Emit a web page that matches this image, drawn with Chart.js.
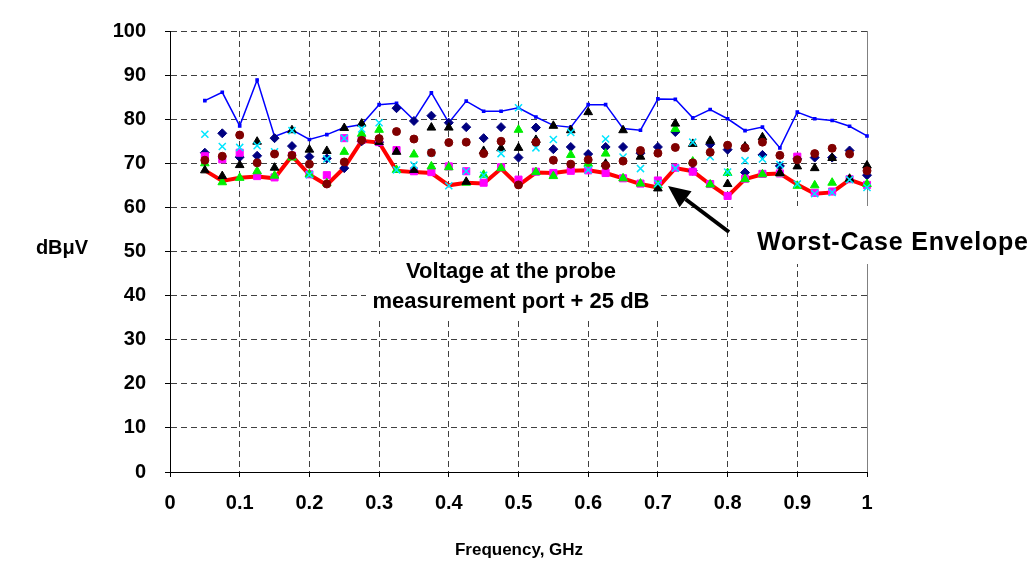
<!DOCTYPE html>
<html>
<head>
<meta charset="utf-8">
<script src="https://cdn.jsdelivr.net/npm/chart.js@4.4.0/dist/chart.umd.min.js"></script>
<style>
  html, body { margin: 0; padding: 0; background: #fff; }
</style>
</head>
<body>
<canvas id="chart" width="1034" height="564"></canvas>
<script>
// Frequency points, GHz
const freqGHz = [0.05, 0.075, 0.1, 0.125, 0.15, 0.175, 0.2, 0.225, 0.25, 0.275,
                 0.3, 0.325, 0.35, 0.375, 0.4, 0.425, 0.45, 0.475, 0.5, 0.525,
                 0.55, 0.575, 0.6, 0.625, 0.65, 0.675, 0.7, 0.725, 0.75, 0.775,
                 0.8, 0.825, 0.85, 0.875, 0.9, 0.925, 0.95, 0.975, 1.0];

const xTickLabels = ['0', '0.1', '0.2', '0.3', '0.4', '0.5', '0.6', '0.7', '0.8', '0.9', '1'];
const yTickLabels = ['0', '10', '20', '30', '40', '50', '60', '70', '80', '90', '100'];

// upper envelope (blue line)
const upperLine = [84.2, 86.1, 78.5, 88.9, 76.1, 77.6, 75.4, 76.5, 78.1, 78.8,
                   83.3, 83.6, 79.8, 86.0, 79.2, 84.1, 81.8, 81.8, 82.6, 80.5,
                   78.6, 78.2, 83.3, 83.3, 77.9, 77.5, 84.6, 84.5, 80.3, 82.2,
                   80.1, 77.4, 78.2, 73.5, 81.6, 80.1, 79.7, 78.4, 76.2];

// worst-case envelope (red line)
const worstCase = [68.4, 66.0, 66.7, 67.0, 66.6, 71.7, 67.4, 65.1, 69.0, 75.1,
                   74.7, 68.3, 68.0, 67.8, 65.0, 65.6, 65.4, 68.8, 65.0, 67.9,
                   67.8, 68.3, 68.4, 67.8, 66.6, 65.3, 64.5, 68.9, 68.2, 65.2,
                   62.5, 66.4, 67.5, 67.7, 65.2, 63.1, 63.4, 66.3, 64.9];

// individual measurements
const navyDiamond = [72.4, 76.8, 71.4, 71.7, 75.7, 73.9, 71.5, 71.1, 68.9, 75.0,
                     74.8, 82.5, 79.6, 80.8, 79.2, 78.2, 75.7, 78.2, 71.3, 78.1,
                     73.2, 73.7, 72.1, 73.7, 73.7, 72.3, 73.7, 77.1, 68.3, 74.3,
                     73.1, 67.9, 71.9, 69.4, 71.0, 71.3, 71.3, 72.9, 67.3];
const magentaSquare = [71.6, 70.9, 72.4, 67.1, 66.8, 71.7, 67.5, 67.3, 75.7, 75.3,
                       74.8, 73.0, 68.2, 68.0, 69.3, 68.2, 65.6, 69.1, 66.3, 68.1,
                       67.8, 68.3, 68.4, 67.8, 66.6, 65.4, 66.1, 69.0, 68.1, 65.3,
                       62.6, 66.5, 67.6, 67.7, 71.5, 63.3, 63.6, 66.4, 65.1];
const greenTriangle = [70.0, 65.7, 66.7, 68.2, 67.2, 71.3, 67.5, 65.5, 72.6, 76.7,
                       77.6, 68.5, 72.0, 69.3, 69.1, 65.6, 67.4, 68.9, 77.6, 68.0,
                       67.1, 71.9, 69.9, 72.2, 66.6, 65.4, 65.0, 77.8, 70.4, 65.2,
                       67.8, 66.4, 67.5, 67.7, 64.9, 65.0, 65.6, 66.4, 65.3];
const blackTriangle = [68.4, 67.1, 69.6, 74.9, 69.0, 77.5, 73.1, 72.8, 78.0, 79.0,
                       74.8, 72.6, 68.5, 78.1, 78.1, 65.8, 72.8, 73.4, 73.5, 75.3,
                       78.5, 77.5, 81.6, 69.9, 77.5, 71.5, 64.3, 79.0, 74.4, 75.1,
                       65.3, 73.8, 75.9, 67.8, 69.3, 68.9, 71.2, 66.5, 69.5];
const cyanCross = [76.6, 73.8, 73.6, 74.0, 72.6, 77.4, 67.4, 71.0, 75.7, 77.8,
                   79.2, 68.5, 69.6, 72.4, 64.9, 68.2, 67.3, 72.2, 82.6, 73.5,
                   75.4, 77.0, 68.5, 75.5, 71.4, 68.8, 65.4, 68.9, 74.8, 71.5,
                   68.0, 70.6, 71.0, 69.7, 65.3, 63.1, 63.4, 66.3, 64.5];
const brownCircle = [70.7, 71.6, 76.4, 70.1, 72.1, 71.8, 69.8, 65.3, 70.3, 75.2,
                     75.6, 77.2, 75.5, 72.4, 74.7, 74.8, 72.2, 75.0, 65.1, 74.8,
                     70.7, 69.8, 70.8, 69.5, 70.5, 72.9, 72.3, 73.6, 70.1, 72.5,
                     74.1, 73.5, 74.8, 71.8, 70.8, 72.2, 73.4, 72.1, 68.3];

const FONT = '"Liberation Sans", Arial, sans-serif';
const toPoints = ys => ys.map((y, i) => ({ x: freqGHz[i], y }));

function markers(label, ys, style, color, radius, order, extra) {
  return Object.assign({
    label,
    data: toPoints(ys),
    showLine: false,
    pointStyle: style,
    pointRadius: radius,
    backgroundColor: color,
    borderColor: color,
    borderWidth: 1,
    clip: false,
    order,
  }, extra || {});
}

// labels, arrow and the solid right edge of the plot
const notes = {
  id: 'notes',
  beforeDatasetsDraw(chart) {
    const { ctx, chartArea: a } = chart;
    ctx.save();
    ctx.strokeStyle = '#808080';
    ctx.lineWidth = 1;
    ctx.beginPath();
    ctx.moveTo(Math.round(a.right) + 0.5, a.top);
    ctx.lineTo(Math.round(a.right) + 0.5, a.bottom);
    ctx.stroke();
    // the text boxes are opaque and hide the grid behind them
    ctx.fillStyle = '#fff';
    ctx.fillRect(366, 254, 292, 64);
    ctx.fillRect(733, 206, 301, 58);
    ctx.restore();
  },
  afterDatasetsDraw(chart) {
    const { ctx } = chart;
    ctx.save();
    ctx.fillStyle = '#000';
    ctx.textBaseline = 'middle';

    ctx.textAlign = 'center';
    ctx.font = 'bold 22px ' + FONT;
    ctx.fillText('Voltage at the probe', 511, 272);
    ctx.fillText('measurement port + 25 dB', 511, 302);

    ctx.textAlign = 'left';
    ctx.font = 'bold 25px ' + FONT;
    ctx.letterSpacing = '0.8px';
    ctx.fillText('Worst-Case Envelope', 757, 243);
    ctx.letterSpacing = '0px';

    // arrow pointing at the red envelope
    const tail = { x: 729, y: 232 }, tip = { x: 668, y: 186 };
    const dx = tip.x - tail.x, dy = tip.y - tail.y;
    const len = Math.hypot(dx, dy);
    const ux = dx / len, uy = dy / len;
    const headLen = 22, headHalf = 10;
    const bx = tip.x - ux * headLen, by = tip.y - uy * headLen;
    ctx.strokeStyle = '#000';
    ctx.lineWidth = 4;
    ctx.beginPath();
    ctx.moveTo(tail.x, tail.y);
    ctx.lineTo(bx, by);
    ctx.stroke();
    ctx.beginPath();
    ctx.moveTo(tip.x, tip.y);
    ctx.lineTo(bx - uy * headHalf, by + ux * headHalf);
    ctx.lineTo(bx + uy * headHalf, by - ux * headHalf);
    ctx.closePath();
    ctx.fill();

    // axis titles
    ctx.textAlign = 'center';
    ctx.font = 'bold 20px ' + FONT;
    ctx.fillText('dBμV', 62, 248);
    ctx.font = 'bold 17px ' + FONT;
    ctx.fillText('Frequency, GHz', 519, 550);
    ctx.restore();
  }
};

const hideEdge = edges => c => (c.tick && edges.includes(c.tick.value)) ? 'rgba(0,0,0,0)' : '#404040';

new Chart(document.getElementById('chart'), {
  type: 'scatter',
  data: {
    datasets: [
      markers('Circle', brownCircle, 'circle', '#800000', 4, 1),
      markers('Cross', cyanCross, 'crossRot', '#00e5ff', 5, 2, { borderWidth: 1.5 }),
      markers('Triangle (black)', blackTriangle, 'triangle', '#000000', 5, 3),
      markers('Triangle (green)', greenTriangle, 'triangle', '#00ee00', 5, 4),
      markers('Square', magentaSquare, 'rect', '#ff00ff', 5, 5),
      markers('Diamond', navyDiamond, 'rectRot', '#000080', 4.5, 6),
      {
        label: 'Upper',
        data: toPoints(upperLine),
        showLine: true,
        borderColor: '#0000ff',
        backgroundColor: '#0000ff',
        borderWidth: 1.5,
        pointStyle: 'rect',
        pointRadius: 1.5,
        tension: 0,
        clip: false,
        order: 7,
      },
      {
        label: 'Worst-Case Envelope',
        data: toPoints(worstCase),
        showLine: true,
        borderColor: '#ff0000',
        borderWidth: 4,
        pointRadius: 0,
        tension: 0,
        clip: false,
        order: 8,
      },
    ]
  },
  options: {
    responsive: false,
    animation: false,
    events: [],
    layout: { padding: { left: 0, top: 19, right: 167, bottom: 0 } },
    plugins: { legend: { display: false }, tooltip: { enabled: false } },
    scales: {
      x: {
        type: 'linear',
        min: 0,
        max: 1,
        afterFit: s => { s.height = 92; },
        grid: { color: hideEdge([0, 1]), lineWidth: 1, tickLength: 5, tickColor: '#000', tickBorderDash: [] },
        border: { display: true, color: '#000', width: 1, dash: [6, 4] },
        ticks: {
          stepSize: 0.1,
          autoSkip: false,
          maxRotation: 0,
          padding: 14,
          color: '#000',
          font: { family: FONT, size: 20, weight: 'bold' },
          callback: (v, i) => xTickLabels[i],
        },
      },
      y: {
        min: 0,
        max: 100,
        afterFit: s => { s.width = 170; },
        grid: { color: hideEdge([0]), lineWidth: 1, tickLength: 5, tickColor: '#000', tickBorderDash: [] },
        border: { display: true, color: '#000', width: 1, dash: [6, 4] },
        ticks: {
          stepSize: 10,
          padding: 19,
          color: '#000',
          font: { family: FONT, size: 20, weight: 'bold' },
          callback: (v, i) => yTickLabels[i],
        },
      },
    },
  },
  plugins: [notes],
});
</script>
</body>
</html>
